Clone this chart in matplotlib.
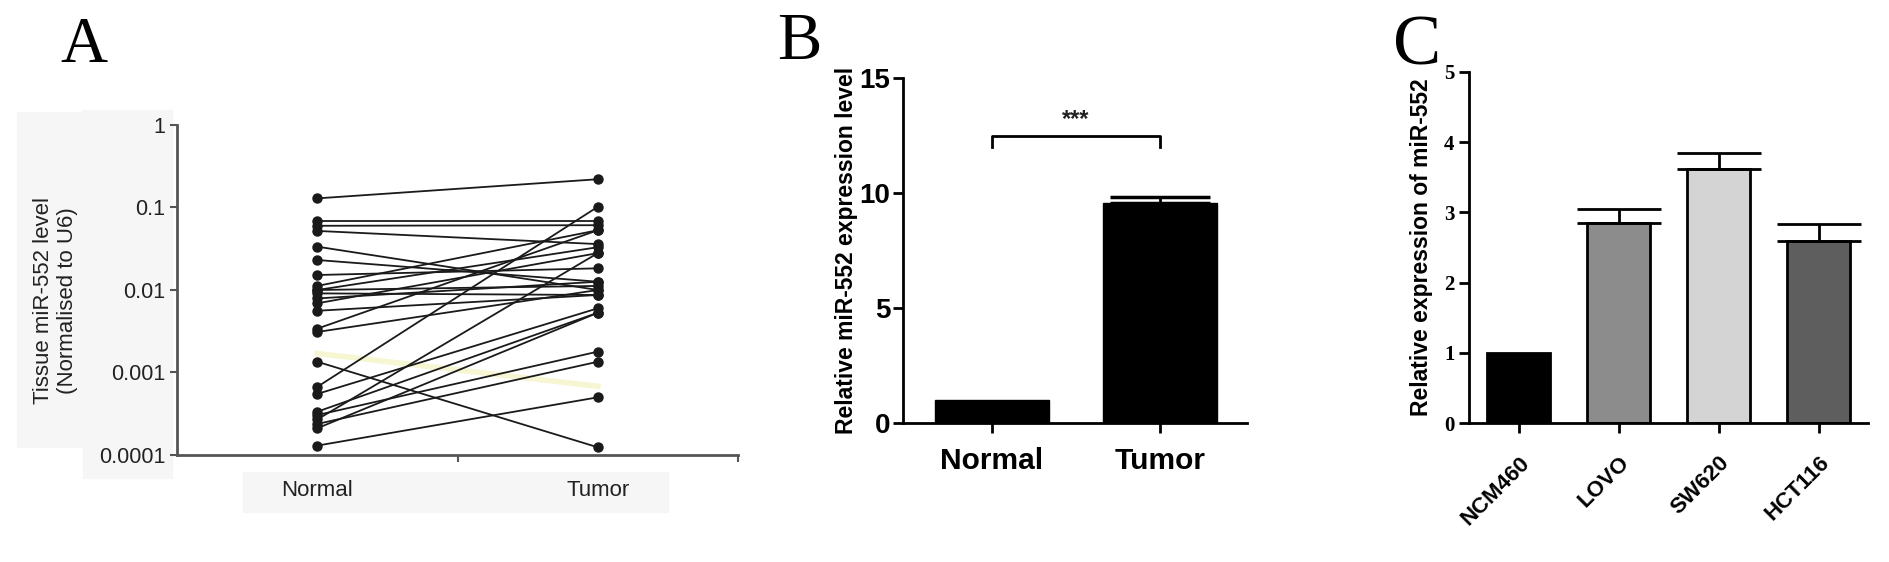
import matplotlib.pyplot as plt
from matplotlib.patches import Rectangle

plt.rcParams['font.family'] = ['Liberation Sans', 'DejaVu Sans']

# panel A: paired tissue samples (normal -> tumor)
normal_vals = [0.129, 0.069, 0.060, 0.052, 0.0335, 0.0231, 0.0152, 0.0112, 0.0100,
               0.0100, 0.0091, 0.0079, 0.0069, 0.0056, 0.0034, 0.0031, 0.00135,
               0.00067, 0.00055, 0.000335, 0.000305, 0.00027, 0.000238, 0.000211, 0.00013]
tumor_vals = [0.22, 0.069, 0.061, 0.036, 0.0100, 0.0126, 0.0183, 0.053, 0.0112,
              0.033, 0.0087, 0.0126, 0.028, 0.0087, 0.053, 0.0100, 0.000124,
              0.102, 0.006, 0.0053, 0.00179, 0.028, 0.00135, 0.0053, 0.0005]
faint_pair = [0.0017, 0.00068]
pair_labels = ['Normal', 'Tumor']
a_yticks = [0.0001, 0.001, 0.01, 0.1, 1]
a_yticklabels = ['0.0001', '0.001', '0.01', '0.1', '1']

# panel B
b_groups = ['Normal', 'Tumor']
b_means = [1.0, 9.55]
b_errs = [0.0, 0.27]

# panel C
c_lines = ['NCM460', 'LOVO', 'SW620', 'HCT116']
c_means = [1.0, 2.85, 3.62, 2.59]
c_errs = [0.0, 0.2, 0.23, 0.25]
c_colors = ['#000000', '#8c8c8c', '#d4d4d4', '#5e5e5e']

fig = plt.figure(figsize=(18.9, 5.62), dpi=100)

# faint grey boxes behind panel A text
for x0, y0, x1, y1 in [(17, 112, 83, 447), (83, 110, 172, 478), (243, 472, 668, 512)]:
    fig.patches.append(Rectangle((x0 / 1890, 1 - y1 / 562), (x1 - x0) / 1890, (y1 - y0) / 562,
                                 transform=fig.transFigure, color='#f6f6f6', zorder=-10))

# ---------- A ----------
axA = fig.add_axes([0.0937, 0.1904, 0.2968, 0.5872])
axA.patch.set_alpha(0)
axA.plot([0, 1], faint_pair, color='#f6f6d2', linewidth=4, zorder=1)
for n, t in zip(normal_vals, tumor_vals):
    axA.plot([0, 1], [n, t], '-o', color='#1a1a1a', linewidth=1.3, markersize=6.5, zorder=2)
axA.set_yscale('log')
axA.set_ylim(0.0001, 1)
axA.set_xlim(-0.5, 1.5)
axA.set_yticks(a_yticks)
axA.set_yticklabels(a_yticklabels)
axA.minorticks_off()
axA.set_xticks([0, 1])
axA.set_xticklabels(pair_labels, fontsize=16)
axA.set_xticks([0.5, 1.5], minor=True)
axA.tick_params(axis='x', which='major', length=0, pad=18, colors='#222222')
axA.tick_params(axis='x', which='minor', length=5, width=1.5, color='#555555')
axA.tick_params(axis='y', length=5, width=1.5, color='#555555', labelsize=15.5, labelcolor='#222222')
for s in ['top', 'right']:
    axA.spines[s].set_visible(False)
for s in ['left', 'bottom']:
    axA.spines[s].set_color('#555555')
    axA.spines[s].set_linewidth(2)
axA.set_ylabel('Tissue miR-552 level\n(Normalised to U6)', fontsize=16, color='#222222')
axA.yaxis.set_label_coords(-0.176, 0.467)
fig.text(0.032, 0.97, 'A', fontsize=47, family='Liberation Serif', va='top')

# ---------- B ----------
axB = fig.add_axes([0.4778, 0.2473, 0.182, 0.6139])
axB.bar(range(len(b_groups)), b_means, width=0.68, color='black', edgecolor='black')
axB.errorbar([1], [b_means[1]], yerr=[[0], [b_errs[1]]], fmt='none', ecolor='black',
             capsize=36, elinewidth=2, capthick=2.5)
axB.set_xlim(-0.53, 1.52)
axB.set_ylim(0, 15)
axB.set_yticks([0, 5, 10, 15])
axB.set_xticks(range(len(b_groups)))
axB.set_xticklabels(b_groups, fontsize=21.5, fontweight='bold')
axB.tick_params(axis='y', labelsize=20, length=7, width=2, pad=2)
axB.tick_params(axis='x', length=7, width=2, pad=10)
for lab in axB.get_yticklabels():
    lab.set_fontweight('bold')
for s in ['top', 'right']:
    axB.spines[s].set_visible(False)
for s in ['left', 'bottom']:
    axB.spines[s].set_linewidth(2)
axB.plot([0, 0, 1, 1], [12.0, 12.5, 12.5, 12.0], color='black', linewidth=2)
axB.text(0.5, 12.7, '***', ha='center', va='bottom', fontsize=17, fontweight='bold', color='#222222')
axB.set_ylabel('Relative miR-552 expression level', fontsize=16.5, fontweight='bold', labelpad=1)
fig.text(0.411, 0.978, 'B', fontsize=48, family='Liberation Serif', va='top')

# ---------- C ----------
axC = fig.add_axes([0.7772, 0.2473, 0.2111, 0.6246])
xc = range(len(c_lines))
axC.bar(xc, c_means, width=0.63, color=c_colors, edgecolor='black', linewidth=2)
axC.errorbar(list(xc)[1:], c_means[1:], yerr=[[0] * 3, c_errs[1:]], fmt='none', ecolor='black',
             capsize=30, elinewidth=2, capthick=2)
axC.set_xlim(-0.5, 3.49)
axC.set_ylim(0, 5)
axC.set_yticks(range(6))
axC.set_yticklabels([str(v) for v in range(6)], family='Liberation Serif', fontweight='bold', fontsize=15)
axC.set_xticks(list(xc))
axC.set_xticklabels(c_lines, rotation=45, ha='right', rotation_mode='anchor', fontsize=16, fontweight='bold')
axC.tick_params(axis='y', length=7, width=2)
axC.tick_params(axis='x', length=7, width=2, pad=14)
for s in ['top', 'right']:
    axC.spines[s].set_visible(False)
for s in ['left', 'bottom']:
    axC.spines[s].set_linewidth(2)
axC.set_ylabel('Relative expression of miR-552', fontsize=16.5, fontweight='bold', labelpad=8)
fig.text(0.737, 0.975, 'C', fontsize=52, family='Liberation Serif', va='top')

fig.savefig('out.png', dpi=100)
